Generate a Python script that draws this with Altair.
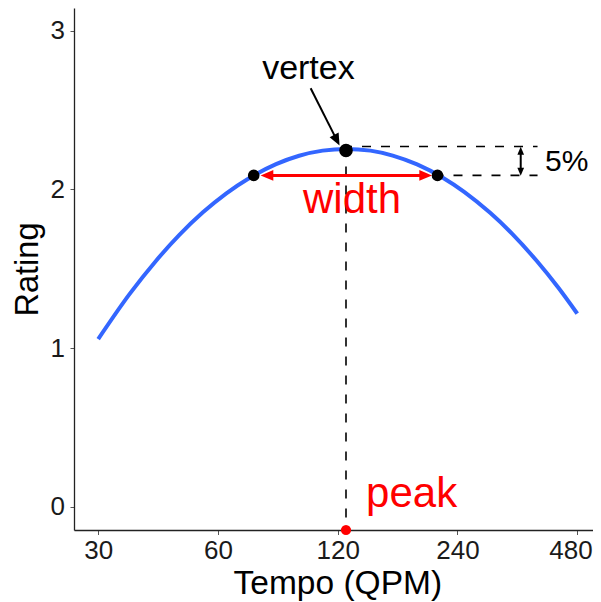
import altair as alt
import pandas as pd

# ---- curve ----
tempo = [30, 36, 42, 48, 55, 63, 72, 84, 96, 110, 126, 145, 165, 190, 220, 250, 290, 330, 380, 430, 480]
rating = [1.056, 1.341, 1.552, 1.713, 1.855, 1.975, 2.072, 2.159, 2.212, 2.244, 2.255,
          2.244, 2.213, 2.157, 2.075, 1.983, 1.852, 1.718, 1.548, 1.381, 1.217]

# ---- key points ----
vertex_tempo = [125.9]
vertex_rating = [2.245]
width_tempo = [73.8, 213.8]
width_rating = [2.088, 2.088]
peak_tempo = [125.9]
peak_rating = [-0.147]

# ---- dashed guides ----
guide_x = [125.9, 125.9, 213.8]
guide_x2 = [125.9, 381.5, 381.5]
guide_y = [2.245, 2.270, 2.088]
guide_y2 = [-0.147, 2.270, 2.088]

# ---- arrow shafts ----
shaft_x = [79.5, 346.1, 102.6]
shaft_x2 = [200.1, 346.1, 119.4]
shaft_y = [2.088, 2.244, 2.637]
shaft_y2 = [2.088, 2.111, 2.310]
shaft_color = ["#FF0000", "#000000", "#000000"]
shaft_width = [3, 2, 2]

# ---- arrow heads ----
head_x = [76.8, 207.1, 346.1, 346.1, 121.3]
head_y = [2.088, 2.088, 2.269, 2.086, 2.276]
head_angle = [270, 90, 0, 180, 153]
head_size = [161, 161, 64, 64, 144]
head_color = ["#FF0000", "#FF0000", "#000000", "#000000", "#000000"]

# ---- labels ----
label_text = ["vertex", "width", "peak", "5%"]
label_x = [101.3, 130.4, 141.4, 398.4]
label_y = [2.698, 1.853, 0.0, 2.118]
label_align = ["center", "center", "left", "left"]
label_size = [34, 42, 42, 30]
label_color = ["#000000", "#FF0000", "#FF0000", "#000000"]

FONT = "Liberation Sans, Arial, Helvetica, sans-serif"

xscale = alt.Scale(type="log", domain=[26.08, 525.9], nice=False)
yscale = alt.Scale(domain=[-0.147, 3.143], nice=False, zero=False)

xaxis = alt.Axis(
    values=[30, 60, 120, 240, 480], format="d", title="Tempo (QPM)", grid=False,
    labelFontSize=26, labelColor="#1a1a1a", labelFont=FONT, labelBaseline="alphabetic",
    labelPadding=24, labelFlush=20, labelFlushOffset=15,
    tickSize=4.5, tickColor="#555555", tickWidth=1,
    domainColor="#222222", domainWidth=1.3, titleFont=FONT, titleFontSize=33.5,
    titleFontWeight="normal", titleColor="#000000", titleBaseline="alphabetic",
    titleX=263.3, titleY=63, titleAlign="center",
)
yaxis = alt.Axis(
    values=[0, 1, 2, 3], title="Rating", grid=False,
    labelFontSize=26, labelColor="#1a1a1a", labelFont=FONT, labelPadding=5.5,
    tickSize=4, tickColor="#555555", tickWidth=1,
    domainColor="#222222", domainWidth=1.3, titleFont=FONT, titleFontSize=32.5,
    titleFontWeight="normal", titleColor="#000000", titleBaseline="alphabetic",
    titleX=-36.8, titleY=261, titleAngle=270, titleAlign="center",
)

def X(field):
    return alt.X(field, scale=xscale, axis=xaxis)

def Y(field):
    return alt.Y(field, scale=yscale, axis=yaxis)

curve_df = pd.DataFrame({"t": tempo, "r": rating})
curve = alt.Chart(curve_df).mark_line(color="#3366FF", strokeWidth=4, interpolate="monotone").encode(
    x=X("t:Q"), y=Y("r:Q"),
)

guides_df = pd.DataFrame({"x": guide_x, "x2": guide_x2, "y": guide_y, "y2": guide_y2})
guides = alt.Chart(guides_df).mark_rule(
    color="#000000", strokeWidth=1.6, strokeDash=[9, 10], strokeDashOffset=3
).encode(
    x=X("x:Q"), x2="x2:Q", y=Y("y:Q"), y2="y2:Q",
)

shaft_df = pd.DataFrame({"x": shaft_x, "x2": shaft_x2, "y": shaft_y, "y2": shaft_y2,
                         "c": shaft_color, "w": shaft_width})
shafts = alt.Chart(shaft_df).mark_rule().encode(
    x=X("x:Q"), x2="x2:Q", y=Y("y:Q"), y2="y2:Q",
    color=alt.Color("c:N", scale=None),
    strokeWidth=alt.StrokeWidth("w:Q", scale=None),
)

head_df = pd.DataFrame({"x": head_x, "y": head_y, "a": head_angle, "s": head_size, "c": head_color})
heads = alt.Chart(head_df).mark_point(
    shape="M0,0L0.84,2L-0.84,2Z", filled=True, opacity=1, strokeWidth=0
).encode(
    x=X("x:Q"), y=Y("y:Q"),
    angle=alt.Angle("a:Q", scale=None),
    size=alt.Size("s:Q", scale=None),
    color=alt.Color("c:N", scale=None),
)

def dots(xs, ys, size, color):
    df = pd.DataFrame({"x": xs, "y": ys})
    return alt.Chart(df).mark_point(
        shape="circle", filled=True, opacity=1, size=size, color=color, strokeWidth=0
    ).encode(x=X("x:Q"), y=Y("y:Q"))

vertex_dot = dots(vertex_tempo, vertex_rating, 185, "#000000")
width_dots = dots(width_tempo, width_rating, 135, "#000000")
peak_dot = dots(peak_tempo, peak_rating, 105, "#FF0000")

texts = []
for i in range(len(label_text)):
    df = pd.DataFrame({"x": [label_x[i]], "y": [label_y[i]], "s": [label_text[i]]})
    texts.append(
        alt.Chart(df).mark_text(
            align=label_align[i], baseline="alphabetic", fontSize=label_size[i],
            color=label_color[i], font=FONT,
        ).encode(x=X("x:Q"), y=Y("y:Q"), text="s:N")
    )

chart = alt.layer(curve, guides, shafts, heads, width_dots, vertex_dot, peak_dot, *texts).properties(
    width=519, height=522,
    background="white",
    autosize=alt.AutoSizeParams(type="none"),
    padding={"left": 66, "top": 0, "right": 0, "bottom": 72},
).configure_view(stroke=None)

chart.save("out.html", embed_options={"renderer": "svg", "actions": False})
